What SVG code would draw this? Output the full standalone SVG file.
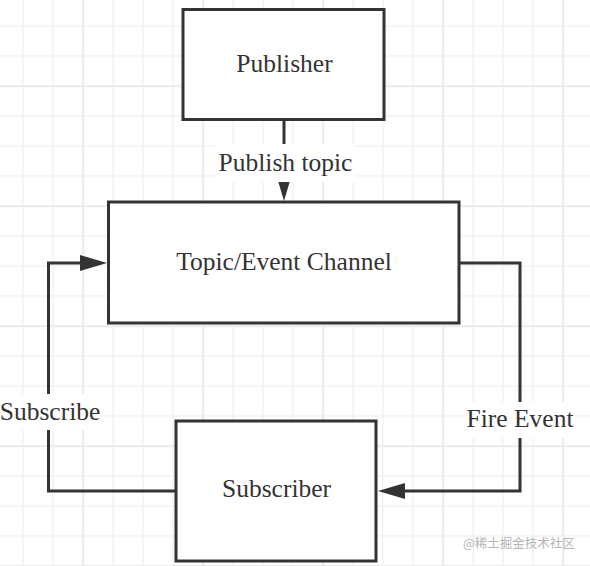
<svg xmlns="http://www.w3.org/2000/svg" width="590" height="566" viewBox="0 0 590 566">
  <style>
    .box { fill: #ffffff; stroke: #333333; stroke-width: 3; }
    .txt { font-family: "Liberation Serif", "Times New Roman", serif; font-size: 25.5px; fill: #333333; text-anchor: middle; }
    .edge { fill: none; stroke: #333333; stroke-width: 3; }
    .lblbg { fill: #ffffff; }
    .wm { font-family: "Noto Sans CJK SC", "Noto Sans", sans-serif; font-size: 12.5px; fill: #b4b4b4; }
  </style>
  <defs>
    <pattern id="minor" patternUnits="userSpaceOnUse" x="22.3" y="25.3" width="30" height="30">
      <rect x="0" y="0" width="1.5" height="30" fill="#f1f1f1"/>
      <rect x="0" y="0" width="30" height="1.5" fill="#f1f1f1"/>
    </pattern>
    <pattern id="major" patternUnits="userSpaceOnUse" x="82.3" y="85.3" width="120" height="120">
      <rect x="0" y="0" width="1.6" height="120" fill="#e9e9e9"/>
      <rect x="0" y="0" width="120" height="1.6" fill="#e9e9e9"/>
    </pattern>
    <marker id="arrow" markerUnits="userSpaceOnUse" viewBox="0 0 27 16" refX="17" refY="8" markerWidth="27" markerHeight="16" orient="auto">
      <path d="M0,0 L27,8 L0,16 Z" fill="#333333"/>
    </marker>
  </defs>

  <g id="background">
    <rect x="0" y="0" width="590" height="566" fill="#ffffff"/>
    <rect x="0" y="0" width="590" height="566" fill="url(#minor)"/>
    <rect x="0" y="0" width="590" height="566" fill="url(#major)"/>
  </g>

  <g id="connectors">
    <path class="edge" d="M284,120 V191" marker-end="url(#arrow)"/>
    <path class="edge" d="M459,263 H520 V491 H388" marker-end="url(#arrow)"/>
    <path class="edge" d="M176,491 H48.5 V263 H97" marker-end="url(#arrow)"/>
    <g id="label-publish">
      <rect class="lblbg" x="215" y="144" width="141" height="38"/>
      <text class="txt" x="285.5" y="171">Publish topic</text>
    </g>
    <g id="label-fire">
      <rect class="lblbg" x="463" y="402" width="114" height="36"/>
      <text class="txt" x="520" y="427">Fire Event</text>
    </g>
    <g id="label-subscribe">
      <rect class="lblbg" x="0" y="394" width="103" height="36"/>
      <text class="txt" x="50" y="420">Subscribe</text>
    </g>
  </g>

  <g id="publisher">
    <rect class="box" x="183" y="9.5" width="201" height="110"/>
    <text class="txt" x="284.5" y="72">Publisher</text>
  </g>

  <g id="channel">
    <rect class="box" x="108.5" y="202" width="350.5" height="121"/>
    <text class="txt" x="284" y="270">Topic/Event Channel</text>
  </g>

  <g id="subscriber">
    <rect class="box" x="176" y="421" width="200" height="140"/>
    <text class="txt" x="276.5" y="497">Subscriber</text>
  </g>

  <text class="wm" x="463" y="548">@稀土掘金技术社区</text>
</svg>
